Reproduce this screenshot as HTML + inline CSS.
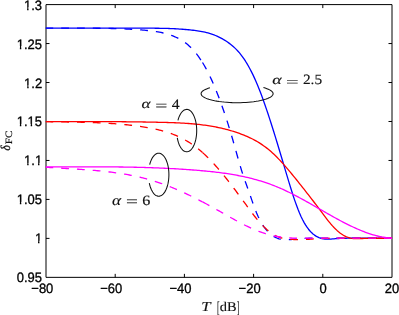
<!DOCTYPE html>
<html><head><meta charset="utf-8"><title>chart</title>
<style>html,body{margin:0;padding:0;background:#fff;}body{width:399px;height:315px;overflow:hidden;}svg{display:block;}text{filter:grayscale(1)}</style>
</head><body>
<svg width="399" height="315" viewBox="0 0 399 315" text-rendering="geometricPrecision">
<rect x="0" y="0" width="399" height="315" fill="#fff"/>
<g stroke="#000" stroke-width="1" fill="none">
<path d="M46.0,4.6 H392.0 V277.35 H46.0 Z"/>
<path d="M115.20,277.35 v-3.5 M115.20,4.6 v3.5 M184.40,277.35 v-3.5 M184.40,4.6 v3.5 M253.60,277.35 v-3.5 M253.60,4.6 v3.5 M322.80,277.35 v-3.5 M322.80,4.6 v3.5 M46.0,238.39 h3.5 M392.0,238.39 h-3.5 M46.0,199.42 h3.5 M392.0,199.42 h-3.5 M46.0,160.46 h3.5 M392.0,160.46 h-3.5 M46.0,121.49 h3.5 M392.0,121.49 h-3.5 M46.0,82.53 h3.5 M392.0,82.53 h-3.5 M46.0,43.56 h3.5 M392.0,43.56 h-3.5 "/>
</g>
<clipPath id="c"><rect x="45.4" y="4.6" width="347.2" height="272.75"/></clipPath>
<g fill="none" stroke-width="1.3" stroke-linejoin="round" clip-path="url(#c)">
<path d="M46.00,28.20 L47.50,28.20 L49.00,28.20 L50.50,28.20 L52.00,28.20 L53.50,28.20 L55.00,28.20 L56.50,28.20 L58.00,28.20 L59.50,28.20 L61.00,28.20 L62.50,28.20 L64.00,28.20 L65.50,28.20 L67.00,28.20 L68.50,28.20 L70.00,28.20 L71.50,28.20 L73.00,28.20 L74.50,28.20 L76.00,28.20 L77.50,28.20 L79.00,28.20 L80.50,28.20 L82.00,28.20 L83.50,28.20 L85.00,28.20 L86.50,28.20 L88.00,28.20 L89.50,28.20 L91.00,28.20 L92.50,28.20 L94.00,28.20 L95.50,28.20 L97.00,28.20 L98.50,28.20 L100.00,28.20 L101.50,28.20 L103.00,28.20 L104.50,28.20 L106.00,28.20 L107.50,28.20 L109.00,28.20 L110.50,28.20 L112.00,28.21 L113.50,28.21 L115.00,28.21 L116.50,28.21 L118.00,28.21 L119.50,28.21 L121.00,28.21 L122.50,28.21 L124.00,28.21 L125.50,28.21 L127.00,28.21 L128.50,28.20 L130.00,28.20 L131.50,28.20 L133.00,28.20 L134.50,28.20 L136.00,28.20 L137.50,28.20 L139.00,28.20 L140.50,28.19 L142.00,28.19 L143.50,28.19 L145.00,28.19 L146.50,28.19 L148.00,28.19 L149.50,28.20 L151.00,28.20 L152.50,28.21 L154.00,28.22 L155.50,28.23 L157.00,28.25 L158.50,28.27 L160.00,28.29 L161.50,28.32 L163.00,28.35 L164.50,28.38 L166.00,28.42 L167.50,28.47 L169.00,28.51 L170.50,28.57 L172.00,28.63 L173.50,28.70 L175.00,28.77 L176.50,28.85 L178.00,28.94 L179.50,29.03 L181.00,29.13 L182.50,29.24 L184.00,29.35 L185.50,29.48 L187.00,29.61 L188.50,29.75 L190.00,29.90 L191.50,30.06 L193.00,30.23 L194.50,30.42 L196.00,30.61 L197.50,30.83 L199.00,31.06 L200.50,31.32 L202.00,31.60 L203.50,31.90 L205.00,32.23 L206.50,32.59 L208.00,32.99 L209.50,33.42 L211.00,33.88 L212.50,34.39 L214.00,34.93 L215.50,35.52 L217.00,36.16 L218.50,36.84 L220.00,37.57 L221.50,38.35 L223.00,39.19 L224.50,40.08 L226.00,41.03 L227.50,42.04 L229.00,43.12 L230.50,44.26 L232.00,45.47 L233.50,46.76 L235.00,48.14 L236.50,49.62 L238.00,51.22 L239.50,52.94 L241.00,54.80 L242.50,56.79 L244.00,58.93 L245.50,61.22 L247.00,63.65 L248.50,66.23 L250.00,68.96 L251.50,71.85 L253.00,74.89 L254.50,78.10 L256.00,81.47 L257.50,85.00 L259.00,88.70 L260.50,92.56 L262.00,96.57 L263.50,100.70 L265.00,104.97 L266.50,109.34 L268.00,113.82 L269.50,118.39 L271.00,123.03 L272.50,127.75 L274.00,132.53 L275.50,137.37 L277.00,142.27 L278.50,147.21 L280.00,152.19 L281.50,157.21 L283.00,162.25 L284.50,167.32 L286.00,172.38 L287.50,177.42 L289.00,182.40 L290.50,187.29 L292.00,192.06 L293.50,196.68 L295.00,201.11 L296.50,205.34 L298.00,209.32 L299.50,213.03 L301.00,216.44 L302.50,219.55 L304.00,222.37 L305.50,224.91 L307.00,227.18 L308.50,229.21 L310.00,231.01 L311.50,232.58 L313.00,233.94 L314.50,235.11 L316.00,236.10 L317.50,236.92 L319.00,237.58 L320.50,238.11 L322.00,238.51 L323.50,238.80 L325.00,238.99 L326.50,239.10 L328.00,239.14 L329.50,239.11 L331.00,239.05 L332.50,238.95 L334.00,238.84 L335.50,238.72 L337.00,238.61 L338.50,238.52 L340.00,238.45 L341.50,238.38 L343.00,238.33 L344.50,238.28 L346.00,238.25 L347.50,238.22 L349.00,238.21 L350.50,238.19 L352.00,238.19 L353.50,238.18 L355.00,238.18 L356.50,238.19 L358.00,238.19 L359.50,238.19 L361.00,238.19 L362.50,238.19 L364.00,238.20 L365.50,238.20 L367.00,238.20 L368.50,238.20 L370.00,238.20 L371.50,238.20 L373.00,238.20 L374.50,238.20 L376.00,238.20 L377.50,238.20 L379.00,238.20 L380.50,238.20 L382.00,238.20 L383.50,238.20 L385.00,238.20 L386.50,238.20 L388.00,238.20 L389.50,238.20 L391.00,238.20 L392.00,238.20" stroke="#0000ff"/>
<path d="M45.40,28.21 L46.90,28.21 L48.40,28.22 L49.90,28.22 L51.40,28.22 L52.90,28.22 L54.40,28.22 L55.90,28.22 L57.40,28.22 L58.90,28.21 L60.40,28.21 L61.90,28.21 L63.40,28.21 L64.90,28.20 L66.40,28.20 L67.90,28.20 L69.40,28.19 L70.90,28.19 L72.40,28.19 L73.90,28.18 L75.40,28.18 L76.90,28.18 L78.40,28.17 L79.90,28.17 L81.40,28.17 L82.90,28.17 L84.40,28.17 L85.90,28.18 L87.40,28.18 L88.90,28.19 L90.40,28.19 L91.90,28.20 L93.40,28.21 L94.90,28.22 L96.40,28.23 L97.90,28.25 L99.40,28.27 L100.90,28.28 L102.40,28.31 L103.90,28.33 L105.40,28.36 L106.90,28.38 L108.40,28.41 L109.90,28.45 L111.40,28.49 L112.90,28.52 L114.40,28.57 L115.90,28.61 L117.40,28.66 L118.90,28.71 L120.40,28.77 L121.90,28.83 L123.40,28.89 L124.90,28.96 L126.40,29.03 L127.90,29.11 L129.40,29.18 L130.90,29.27 L132.40,29.35 L133.90,29.45 L135.40,29.54 L136.90,29.64 L138.40,29.75 L139.90,29.86 L141.40,29.97 L142.90,30.09 L144.40,30.22 L145.90,30.35 L147.40,30.49 L148.90,30.64 L150.40,30.80 L151.90,30.97 L153.40,31.16 L154.90,31.37 L156.40,31.60 L157.90,31.85 L159.40,32.12 L160.90,32.42 L162.40,32.75 L163.90,33.10 L165.40,33.49 L166.90,33.91 L168.40,34.36 L169.90,34.85 L171.40,35.39 L172.90,35.96 L174.40,36.57 L175.90,37.23 L177.40,37.94 L178.90,38.71 L180.40,39.54 L181.90,40.44 L183.40,41.41 L184.90,42.46 L186.40,43.60 L187.90,44.83 L189.40,46.16 L190.90,47.59 L192.40,49.13 L193.90,50.77 L195.40,52.53 L196.90,54.41 L198.40,56.41 L199.90,58.54 L201.40,60.79 L202.50,62.53" stroke="#0000ff" stroke-dasharray="7.8 8.0"/>
<path d="M202.50,62.53 L204.00,65.02 L205.50,67.65 L207.00,70.43 L208.50,73.36 L210.00,76.43 L211.50,79.64 L213.00,83.00 L214.50,86.49 L216.00,90.12 L217.50,93.89 L219.00,97.79 L220.50,101.82 L222.00,105.98 L223.50,110.27 L225.00,114.68 L226.50,119.23 L228.00,123.91 L229.50,128.73 L231.00,133.69 L232.50,138.79 L234.00,144.03 L235.50,149.36 L237.00,154.72 L238.50,160.03 L240.00,165.22 L241.50,170.21 L243.00,174.93 L244.50,179.35 L246.00,183.57 L247.50,187.73 L249.00,191.97 L250.50,196.29 L252.00,200.60 L253.50,204.83 L255.00,208.89 L256.50,212.69 L258.00,216.16 L259.50,219.28 L261.00,222.09 L262.50,224.60 L264.00,226.86 L265.50,228.87 L267.00,230.68 L268.50,232.28 L270.00,233.69 L271.50,234.92 L273.00,235.99 L274.50,236.89 L276.00,237.65 L277.50,238.27 L279.00,238.76 L280.50,239.15 L282.00,239.42 L283.50,239.61 L285.00,239.72 L286.50,239.75 L288.00,239.72 L289.50,239.65 L291.00,239.54 L292.50,239.40 L294.00,239.25 L295.50,239.09 L297.00,238.93 L298.50,238.80 L300.00,238.68 L301.50,238.57 L303.00,238.48 L304.50,238.40 L306.00,238.33 L307.50,238.28 L309.00,238.23 L310.50,238.20 L312.00,238.17 L313.50,238.16 L315.00,238.14 L316.50,238.14 L318.00,238.14 L319.50,238.14 L321.00,238.15 L322.50,238.16 L324.00,238.17 L325.50,238.18 L327.00,238.19 L328.50,238.20 L330.00,238.20 L331.50,238.21 L333.00,238.21 L334.50,238.21 L336.00,238.21 L337.50,238.21 L339.00,238.21 L340.50,238.21 L342.00,238.21 L343.50,238.21 L345.00,238.21 L346.50,238.20 L348.00,238.20 L349.50,238.20 L351.00,238.20 L352.50,238.20 L354.00,238.20 L355.50,238.20 L357.00,238.20 L358.50,238.20 L360.00,238.20 L361.50,238.20 L363.00,238.19 L364.50,238.19 L366.00,238.19 L367.50,238.19 L369.00,238.20 L370.50,238.20 L372.00,238.20 L373.50,238.20 L375.00,238.20 L376.50,238.20 L378.00,238.20 L379.50,238.20 L381.00,238.20 L382.50,238.20 L384.00,238.20 L385.50,238.20 L387.00,238.20 L388.50,238.20 L390.00,238.20 L391.50,238.20 L392.00,238.20" stroke="#0000ff" stroke-dasharray="7.8 8.0"/>
<path d="M46.00,121.55 L47.50,121.55 L49.00,121.55 L50.50,121.55 L52.00,121.55 L53.50,121.54 L55.00,121.54 L56.50,121.54 L58.00,121.54 L59.50,121.54 L61.00,121.54 L62.50,121.54 L64.00,121.54 L65.50,121.54 L67.00,121.54 L68.50,121.54 L70.00,121.54 L71.50,121.54 L73.00,121.54 L74.50,121.54 L76.00,121.54 L77.50,121.54 L79.00,121.54 L80.50,121.55 L82.00,121.55 L83.50,121.55 L85.00,121.55 L86.50,121.55 L88.00,121.56 L89.50,121.56 L91.00,121.56 L92.50,121.57 L94.00,121.57 L95.50,121.57 L97.00,121.58 L98.50,121.58 L100.00,121.59 L101.50,121.60 L103.00,121.60 L104.50,121.61 L106.00,121.62 L107.50,121.62 L109.00,121.63 L110.50,121.64 L112.00,121.65 L113.50,121.66 L115.00,121.67 L116.50,121.68 L118.00,121.69 L119.50,121.71 L121.00,121.72 L122.50,121.73 L124.00,121.75 L125.50,121.76 L127.00,121.78 L128.50,121.79 L130.00,121.81 L131.50,121.83 L133.00,121.85 L134.50,121.87 L136.00,121.89 L137.50,121.91 L139.00,121.93 L140.50,121.95 L142.00,121.97 L143.50,122.00 L145.00,122.02 L146.50,122.05 L148.00,122.07 L149.50,122.10 L151.00,122.13 L152.50,122.16 L154.00,122.19 L155.50,122.22 L157.00,122.25 L158.50,122.29 L160.00,122.32 L161.50,122.36 L163.00,122.39 L164.50,122.43 L166.00,122.47 L167.50,122.51 L169.00,122.56 L170.50,122.60 L172.00,122.65 L173.50,122.71 L175.00,122.76 L176.50,122.83 L178.00,122.89 L179.50,122.96 L181.00,123.04 L182.50,123.12 L184.00,123.21 L185.50,123.30 L187.00,123.40 L188.50,123.51 L190.00,123.62 L191.50,123.74 L193.00,123.87 L194.50,124.01 L196.00,124.15 L197.50,124.31 L199.00,124.47 L200.50,124.64 L202.00,124.82 L203.50,125.02 L205.00,125.22 L206.50,125.43 L208.00,125.65 L209.50,125.89 L211.00,126.14 L212.50,126.40 L214.00,126.67 L215.50,126.95 L217.00,127.25 L218.50,127.56 L220.00,127.88 L221.50,128.22 L223.00,128.57 L224.50,128.94 L226.00,129.32 L227.50,129.72 L229.00,130.13 L230.50,130.56 L232.00,131.00 L233.50,131.46 L235.00,131.94 L236.50,132.44 L238.00,132.95 L239.50,133.48 L241.00,134.03 L242.50,134.60 L244.00,135.19 L245.50,135.80 L247.00,136.44 L248.50,137.11 L250.00,137.80 L251.50,138.53 L253.00,139.28 L254.50,140.08 L256.00,140.91 L257.50,141.77 L259.00,142.68 L260.50,143.63 L262.00,144.62 L263.50,145.66 L265.00,146.74 L266.50,147.88 L268.00,149.07 L269.50,150.31 L271.00,151.60 L272.50,152.95 L274.00,154.35 L275.50,155.80 L277.00,157.29 L278.50,158.83 L280.00,160.41 L281.50,162.03 L283.00,163.68 L284.50,165.37 L286.00,167.09 L287.50,168.83 L289.00,170.61 L290.50,172.40 L292.00,174.22 L293.50,176.05 L295.00,177.91 L296.50,179.77 L298.00,181.64 L299.50,183.53 L301.00,185.42 L302.50,187.31 L304.00,189.21 L305.50,191.11 L307.00,193.03 L308.50,194.95 L310.00,196.88 L311.50,198.82 L313.00,200.77 L314.50,202.73 L316.00,204.70 L317.50,206.68 L319.00,208.68 L320.50,210.69 L322.00,212.70 L323.50,214.72 L325.00,216.71 L326.50,218.67 L328.00,220.58 L329.50,222.43 L331.00,224.20 L332.50,225.88 L334.00,227.48 L335.50,228.98 L337.00,230.39 L338.50,231.70 L340.00,232.90 L341.50,234.00 L343.00,234.98 L344.50,235.86 L346.00,236.61 L347.50,237.24 L349.00,237.75 L350.50,238.12 L352.00,238.38 L353.50,238.53 L355.00,238.60 L356.50,238.61 L358.00,238.59 L359.50,238.56 L361.00,238.53 L362.50,238.50 L364.00,238.47 L365.50,238.44 L367.00,238.41 L368.50,238.39 L370.00,238.37 L371.50,238.35 L373.00,238.33 L374.50,238.31 L376.00,238.30 L377.50,238.28 L379.00,238.27 L380.50,238.26 L382.00,238.24 L383.50,238.23 L385.00,238.23 L386.50,238.22 L388.00,238.21 L389.50,238.21 L391.00,238.20 L392.00,238.20" stroke="#ff0000"/>
<path d="M45.40,121.62 L46.90,121.65 L48.40,121.67 L49.90,121.70 L51.40,121.73 L52.90,121.75 L54.40,121.78 L55.90,121.80 L57.40,121.82 L58.90,121.85 L60.40,121.87 L61.90,121.89 L63.40,121.91 L64.90,121.94 L66.40,121.96 L67.90,121.98 L69.40,122.01 L70.90,122.03 L72.40,122.06 L73.90,122.08 L75.40,122.11 L76.90,122.14 L78.40,122.17 L79.90,122.20 L81.40,122.24 L82.90,122.27 L84.40,122.31 L85.90,122.35 L87.40,122.39 L88.90,122.44 L90.40,122.48 L91.90,122.53 L93.40,122.59 L94.90,122.64 L96.40,122.70 L97.90,122.76 L99.40,122.83 L100.90,122.90 L102.40,122.97 L103.90,123.04 L105.40,123.13 L106.90,123.21 L108.40,123.30 L109.90,123.39 L111.40,123.49 L112.90,123.59 L114.40,123.70 L115.90,123.81 L117.40,123.93 L118.90,124.05 L120.40,124.18 L121.90,124.31 L123.40,124.45 L124.90,124.60 L126.40,124.75 L127.90,124.91 L129.40,125.07 L130.90,125.24 L132.40,125.41 L133.90,125.60 L135.40,125.79 L136.90,125.98 L138.40,126.19 L139.90,126.40 L141.40,126.62 L142.90,126.84 L144.40,127.08 L145.90,127.32 L147.40,127.57 L148.90,127.83 L150.40,128.10 L151.90,128.39 L153.40,128.68 L154.90,129.00 L156.40,129.32 L157.90,129.67 L159.40,130.03 L160.90,130.41 L162.40,130.81 L163.90,131.23 L165.40,131.67 L166.90,132.13 L168.40,132.62 L169.90,133.14 L171.40,133.68 L172.90,134.24 L174.40,134.84 L175.90,135.46 L177.40,136.11 L178.90,136.80 L180.40,137.52 L181.90,138.27 L183.40,139.05 L184.90,139.88 L186.40,140.73 L187.90,141.63 L189.40,142.56 L190.90,143.54 L192.40,144.55 L193.90,145.61 L195.40,146.71 L196.90,147.85 L198.40,149.04 L199.90,150.27 L201.40,151.56 L202.50,152.53" stroke="#ff0000" stroke-dasharray="7.8 8.0"/>
<path d="M202.50,152.53 L204.00,153.89 L205.50,155.29 L207.00,156.74 L208.50,158.22 L210.00,159.75 L211.50,161.32 L213.00,162.92 L214.50,164.56 L216.00,166.23 L217.50,167.94 L219.00,169.67 L220.50,171.44 L222.00,173.24 L223.50,175.06 L225.00,176.91 L226.50,178.78 L228.00,180.68 L229.50,182.60 L231.00,184.55 L232.50,186.51 L234.00,188.49 L235.50,190.48 L237.00,192.49 L238.50,194.51 L240.00,196.54 L241.50,198.58 L243.00,200.62 L244.50,202.68 L246.00,204.73 L247.50,206.79 L249.00,208.83 L250.50,210.86 L252.00,212.86 L253.50,214.83 L255.00,216.74 L256.50,218.60 L258.00,220.40 L259.50,222.12 L261.00,223.78 L262.50,225.36 L264.00,226.86 L265.50,228.29 L267.00,229.64 L268.50,230.90 L270.00,232.07 L271.50,233.15 L273.00,234.14 L274.50,235.03 L276.00,235.82 L277.50,236.51 L279.00,237.10 L280.50,237.59 L282.00,238.00 L283.50,238.33 L285.00,238.61 L286.50,238.85 L288.00,239.04 L289.50,239.21 L291.00,239.34 L292.50,239.45 L294.00,239.53 L295.50,239.58 L297.00,239.61 L298.50,239.62 L300.00,239.61 L301.50,239.58 L303.00,239.54 L304.50,239.48 L306.00,239.41 L307.50,239.34 L309.00,239.25 L310.50,239.16 L312.00,239.07 L313.50,238.97 L315.00,238.88 L316.50,238.78 L318.00,238.69 L319.50,238.61 L321.00,238.54 L322.50,238.47 L324.00,238.41 L325.50,238.36 L327.00,238.32 L328.50,238.28 L330.00,238.25 L331.50,238.23 L333.00,238.21 L334.50,238.19 L336.00,238.18 L337.50,238.18 L339.00,238.17 L340.50,238.17 L342.00,238.17 L343.50,238.18 L345.00,238.18 L346.50,238.19 L348.00,238.19 L349.50,238.20 L351.00,238.21 L352.50,238.21 L354.00,238.21 L355.50,238.22 L357.00,238.22 L358.50,238.22 L360.00,238.22 L361.50,238.22 L363.00,238.22 L364.50,238.21 L366.00,238.21 L367.50,238.21 L369.00,238.21 L370.50,238.20 L372.00,238.20 L373.50,238.20 L375.00,238.20 L376.50,238.19 L378.00,238.19 L379.50,238.19 L381.00,238.19 L382.50,238.19 L384.00,238.19 L385.50,238.19 L387.00,238.19 L388.50,238.19 L390.00,238.19 L391.50,238.20 L392.00,238.20" stroke="#ff0000" stroke-dasharray="7.8 8.0"/>
<path d="M46.00,166.80 L47.50,166.80 L49.00,166.80 L50.50,166.80 L52.00,166.80 L53.50,166.80 L55.00,166.80 L56.50,166.80 L58.00,166.80 L59.50,166.80 L61.00,166.80 L62.50,166.80 L64.00,166.80 L65.50,166.80 L67.00,166.79 L68.50,166.79 L70.00,166.79 L71.50,166.79 L73.00,166.79 L74.50,166.79 L76.00,166.79 L77.50,166.79 L79.00,166.79 L80.50,166.79 L82.00,166.79 L83.50,166.79 L85.00,166.79 L86.50,166.79 L88.00,166.79 L89.50,166.79 L91.00,166.79 L92.50,166.80 L94.00,166.80 L95.50,166.81 L97.00,166.81 L98.50,166.82 L100.00,166.82 L101.50,166.83 L103.00,166.84 L104.50,166.85 L106.00,166.86 L107.50,166.87 L109.00,166.88 L110.50,166.89 L112.00,166.90 L113.50,166.92 L115.00,166.93 L116.50,166.95 L118.00,166.96 L119.50,166.98 L121.00,167.00 L122.50,167.02 L124.00,167.05 L125.50,167.07 L127.00,167.09 L128.50,167.12 L130.00,167.15 L131.50,167.18 L133.00,167.21 L134.50,167.24 L136.00,167.27 L137.50,167.31 L139.00,167.34 L140.50,167.38 L142.00,167.42 L143.50,167.46 L145.00,167.50 L146.50,167.55 L148.00,167.59 L149.50,167.64 L151.00,167.69 L152.50,167.74 L154.00,167.80 L155.50,167.85 L157.00,167.91 L158.50,167.97 L160.00,168.03 L161.50,168.10 L163.00,168.16 L164.50,168.23 L166.00,168.30 L167.50,168.37 L169.00,168.45 L170.50,168.53 L172.00,168.61 L173.50,168.69 L175.00,168.77 L176.50,168.86 L178.00,168.95 L179.50,169.04 L181.00,169.13 L182.50,169.23 L184.00,169.33 L185.50,169.43 L187.00,169.53 L188.50,169.64 L190.00,169.75 L191.50,169.86 L193.00,169.98 L194.50,170.10 L196.00,170.22 L197.50,170.34 L199.00,170.47 L200.50,170.60 L202.00,170.73 L203.50,170.87 L205.00,171.01 L206.50,171.15 L208.00,171.30 L209.50,171.45 L211.00,171.60 L212.50,171.77 L214.00,171.93 L215.50,172.10 L217.00,172.28 L218.50,172.46 L220.00,172.65 L221.50,172.85 L223.00,173.05 L224.50,173.26 L226.00,173.48 L227.50,173.70 L229.00,173.93 L230.50,174.17 L232.00,174.42 L233.50,174.67 L235.00,174.93 L236.50,175.21 L238.00,175.49 L239.50,175.78 L241.00,176.08 L242.50,176.39 L244.00,176.71 L245.50,177.04 L247.00,177.39 L248.50,177.74 L250.00,178.10 L251.50,178.48 L253.00,178.87 L254.50,179.27 L256.00,179.68 L257.50,180.10 L259.00,180.54 L260.50,180.99 L262.00,181.45 L263.50,181.92 L265.00,182.41 L266.50,182.92 L268.00,183.43 L269.50,183.97 L271.00,184.51 L272.50,185.07 L274.00,185.65 L275.50,186.24 L277.00,186.85 L278.50,187.48 L280.00,188.12 L281.50,188.77 L283.00,189.44 L284.50,190.13 L286.00,190.83 L287.50,191.55 L289.00,192.28 L290.50,193.02 L292.00,193.77 L293.50,194.54 L295.00,195.32 L296.50,196.10 L298.00,196.90 L299.50,197.70 L301.00,198.52 L302.50,199.34 L304.00,200.16 L305.50,201.00 L307.00,201.84 L308.50,202.68 L310.00,203.53 L311.50,204.38 L313.00,205.24 L314.50,206.10 L316.00,206.96 L317.50,207.82 L319.00,208.68 L320.50,209.54 L322.00,210.40 L323.50,211.26 L325.00,212.12 L326.50,212.98 L328.00,213.83 L329.50,214.68 L331.00,215.53 L332.50,216.36 L334.00,217.20 L335.50,218.03 L337.00,218.85 L338.50,219.66 L340.00,220.46 L341.50,221.26 L343.00,222.05 L344.50,222.82 L346.00,223.59 L347.50,224.34 L349.00,225.08 L350.50,225.81 L352.00,226.53 L353.50,227.23 L355.00,227.92 L356.50,228.59 L358.00,229.25 L359.50,229.88 L361.00,230.51 L362.50,231.11 L364.00,231.70 L365.50,232.27 L367.00,232.81 L368.50,233.34 L370.00,233.84 L371.50,234.32 L373.00,234.78 L374.50,235.21 L376.00,235.62 L377.50,236.00 L379.00,236.35 L380.50,236.68 L382.00,236.98 L383.50,237.24 L385.00,237.48 L386.50,237.69 L388.00,237.86 L389.50,238.01 L391.00,238.11 L392.00,238.17" stroke="#ff00ff"/>
<path d="M45.40,167.23 L46.90,167.34 L48.40,167.43 L49.90,167.53 L51.40,167.63 L52.90,167.72 L54.40,167.81 L55.90,167.90 L57.40,167.99 L58.90,168.08 L60.40,168.17 L61.90,168.26 L63.40,168.34 L64.90,168.43 L66.40,168.52 L67.90,168.60 L69.40,168.69 L70.90,168.78 L72.40,168.87 L73.90,168.96 L75.40,169.05 L76.90,169.14 L78.40,169.24 L79.90,169.33 L81.40,169.43 L82.90,169.54 L84.40,169.64 L85.90,169.75 L87.40,169.86 L88.90,169.97 L90.40,170.09 L91.90,170.21 L93.40,170.33 L94.90,170.46 L96.40,170.59 L97.90,170.73 L99.40,170.87 L100.90,171.02 L102.40,171.17 L103.90,171.33 L105.40,171.49 L106.90,171.66 L108.40,171.83 L109.90,172.01 L111.40,172.20 L112.90,172.39 L114.40,172.59 L115.90,172.80 L117.40,173.01 L118.90,173.23 L120.40,173.46 L121.90,173.70 L123.40,173.95 L124.90,174.20 L126.40,174.46 L127.90,174.73 L129.40,175.01 L130.90,175.30 L132.40,175.60 L133.90,175.90 L135.40,176.22 L136.90,176.55 L138.40,176.88 L139.90,177.23 L141.40,177.59 L142.90,177.96 L144.40,178.34 L145.90,178.73 L147.40,179.13 L148.90,179.54 L150.40,179.97 L151.90,180.41 L153.40,180.86 L154.90,181.32 L156.40,181.79 L157.90,182.28 L159.40,182.78 L160.90,183.29 L162.40,183.82 L163.90,184.36 L165.40,184.91 L166.90,185.48 L168.40,186.06 L169.90,186.64 L171.40,187.25 L172.90,187.86 L174.40,188.48 L175.90,189.12 L177.40,189.76 L178.90,190.42 L180.40,191.08 L181.90,191.76 L183.40,192.44 L184.90,193.14 L186.40,193.84 L187.90,194.55 L189.40,195.27 L190.90,196.00 L192.40,196.74 L193.90,197.49 L195.40,198.24 L196.90,199.00 L198.40,199.77 L199.90,200.55 L201.40,201.33 L202.50,201.91" stroke="#ff00ff" stroke-dasharray="7.8 8.0"/>
<path d="M202.50,201.91 L204.00,202.70 L205.50,203.50 L207.00,204.30 L208.50,205.11 L210.00,205.93 L211.50,206.75 L213.00,207.57 L214.50,208.40 L216.00,209.24 L217.50,210.07 L219.00,210.92 L220.50,211.76 L222.00,212.61 L223.50,213.46 L225.00,214.31 L226.50,215.16 L228.00,216.01 L229.50,216.85 L231.00,217.70 L232.50,218.54 L234.00,219.37 L235.50,220.20 L237.00,221.02 L238.50,221.83 L240.00,222.63 L241.50,223.42 L243.00,224.19 L244.50,224.96 L246.00,225.71 L247.50,226.44 L249.00,227.16 L250.50,227.86 L252.00,228.55 L253.50,229.21 L255.00,229.85 L256.50,230.48 L258.00,231.07 L259.50,231.65 L261.00,232.20 L262.50,232.73 L264.00,233.22 L265.50,233.69 L267.00,234.14 L268.50,234.55 L270.00,234.94 L271.50,235.31 L273.00,235.65 L274.50,235.96 L276.00,236.25 L277.50,236.52 L279.00,236.76 L280.50,236.99 L282.00,237.19 L283.50,237.37 L285.00,237.53 L286.50,237.67 L288.00,237.79 L289.50,237.89 L291.00,237.98 L292.50,238.05 L294.00,238.10 L295.50,238.15 L297.00,238.18 L298.50,238.20 L300.00,238.22 L301.50,238.23 L303.00,238.23 L304.50,238.23 L306.00,238.22 L307.50,238.22 L309.00,238.21 L310.50,238.21 L312.00,238.21 L313.50,238.20 L315.00,238.20 L316.50,238.20 L318.00,238.20 L319.50,238.20 L321.00,238.20 L322.50,238.20 L324.00,238.20 L325.50,238.20 L327.00,238.20 L328.50,238.20 L330.00,238.20 L331.50,238.20 L333.00,238.20 L334.50,238.20 L336.00,238.20 L337.50,238.20 L339.00,238.20 L340.50,238.20 L342.00,238.20 L343.50,238.20 L345.00,238.20 L346.50,238.20 L348.00,238.20 L349.50,238.20 L351.00,238.20 L352.50,238.20 L354.00,238.20 L355.50,238.20 L357.00,238.20 L358.50,238.20 L360.00,238.20 L361.50,238.20 L363.00,238.20 L364.50,238.20 L366.00,238.20 L367.50,238.20 L369.00,238.20 L370.50,238.20 L372.00,238.20 L373.50,238.20 L375.00,238.20 L376.50,238.20 L378.00,238.20 L379.50,238.20 L381.00,238.20 L382.50,238.20 L384.00,238.20 L385.50,238.20 L387.00,238.20 L388.50,238.20 L390.00,238.20 L391.50,238.20 L392.00,238.20" stroke="#ff00ff" stroke-dasharray="7.8 8.0"/>
</g>
<g stroke="#111" stroke-width="1.05" fill="none">
<path d="M263.43,87.56 L265.23,88.09 L266.87,88.64 L268.34,89.23 L269.62,89.84 L270.71,90.47 L271.60,91.13 L272.29,91.80 L272.77,92.48 L273.04,93.17 L273.09,93.86 L272.94,94.55 L272.57,95.23 L272.00,95.91 L271.22,96.57 L270.24,97.22 L269.06,97.84 L267.70,98.44 L266.15,99.02 L264.43,99.56 L262.56,100.06 L260.53,100.53 L258.36,100.96 L256.07,101.35 L253.67,101.69 L251.17,101.98 L248.58,102.23 L245.93,102.43 L243.23,102.57 L240.49,102.66 L237.73,102.70 L234.96,102.68 L232.21,102.62 L229.49,102.50 L226.82,102.32 L224.20,102.10 L221.66,101.83 L219.21,101.51 L216.86,101.14 L214.64,100.73 L212.55,100.28 L210.60,99.79 L208.81,99.27 L207.18,98.71 L205.74,98.12 L204.47,97.50 L203.40,96.87 L202.53,96.21 L201.86,95.54 L201.40,94.86 L201.15,94.17 L201.11,93.48 L201.28,92.79 L201.67,92.11 L202.26,91.43 L203.06,90.77 L204.06,90.13 L205.26,89.50 L206.64,88.90 L208.20,88.33 L209.93,87.80"/>
<path d="M177.95,120.32 L178.43,118.69 L178.97,117.15 L179.57,115.73 L180.24,114.42 L180.95,113.25 L181.72,112.22 L182.52,111.34 L183.36,110.62 L184.22,110.06 L185.11,109.67 L186.01,109.45 L186.91,109.40 L187.81,109.53 L188.71,109.83 L189.58,110.30 L190.44,110.93 L191.26,111.73 L192.04,112.68 L192.79,113.78 L193.48,115.01 L194.11,116.37 L194.69,117.85 L195.20,119.43 L195.64,121.11 L196.01,122.86 L196.30,124.67 L196.51,126.54 L196.65,128.43 L196.70,130.35 L196.67,132.26 L196.56,134.17 L196.37,136.04 L196.09,137.87 L195.75,139.64 L195.32,141.33 L194.83,142.94 L194.27,144.45 L193.65,145.84 L192.97,147.11 L192.24,148.24 L191.47,149.23 L190.66,150.07 L189.81,150.75 L188.94,151.26 L188.05,151.61 L187.15,151.78 L186.24,151.78 L185.34,151.60 L184.45,151.26 L183.58,150.74 L182.74,150.06 L181.92,149.23 L181.15,148.23 L180.42,147.10 L179.74,145.83 L179.12,144.43 L178.56,142.93 L178.07,141.32 L177.65,139.62 L177.30,137.85"/>
<path d="M149.69,164.61 L150.16,162.94 L150.70,161.37 L151.30,159.91 L151.95,158.57 L152.67,157.36 L153.43,156.29 L154.24,155.37 L155.08,154.60 L155.95,154.00 L156.84,153.56 L157.75,153.29 L158.66,153.20 L159.58,153.28 L160.49,153.53 L161.38,153.96 L162.26,154.55 L163.10,155.30 L163.91,156.21 L164.67,157.27 L165.39,158.47 L166.06,159.81 L166.66,161.26 L167.20,162.82 L167.67,164.47 L168.07,166.21 L168.40,168.02 L168.64,169.88 L168.81,171.78 L168.89,173.71 L168.89,175.64 L168.81,177.56 L168.65,179.46 L168.40,181.33 L168.08,183.14 L167.69,184.88 L167.22,186.54 L166.68,188.10 L166.07,189.55 L165.41,190.89 L164.70,192.09 L163.93,193.16 L163.12,194.07 L162.28,194.83 L161.41,195.43 L160.52,195.86 L159.61,196.11 L158.69,196.20 L157.78,196.11 L156.87,195.85 L155.97,195.42 L155.10,194.82 L154.26,194.06 L153.45,193.14 L152.69,192.07 L151.97,190.86 L151.31,189.53 L150.71,188.07 L150.17,186.50 L149.71,184.84 L149.31,183.10"/>
</g>
<g font-family="'Liberation Sans', sans-serif" font-size="13.0" fill="#000" stroke="#000" stroke-width="0.3">
<text transform="translate(31.30,293.4) scale(1,1.05)">−80</text>
<text transform="translate(100.20,293.4) scale(1,1.05)">−60</text>
<text transform="translate(169.40,293.4) scale(1,1.05)">−40</text>
<text transform="translate(238.60,293.4) scale(1,1.05)">−20</text>
<text transform="translate(319.38,293.4) scale(1,1.05)">0</text>
<text transform="translate(384.70,293.4) scale(1,1.05)">20</text>
<g transform="translate(16.73,282.36) scale(1,1.05)"><text>0.95</text></g>
<g transform="translate(34.90,243.33) scale(1,1.05)"><text>1</text><rect x="-0.01" y="-2.42" width="3.13" height="3.92" fill="#fff" stroke="none"/><rect x="4.57" y="-2.42" width="2.63" height="3.92" fill="#fff" stroke="none"/></g>
<g transform="translate(16.73,204.43) scale(1,1.05)"><text>1.05</text><rect x="-0.01" y="-2.42" width="3.13" height="3.92" fill="#fff" stroke="none"/><rect x="4.57" y="-2.42" width="2.63" height="3.92" fill="#fff" stroke="none"/></g>
<g transform="translate(24.05,165.40) scale(1,1.05)"><text>1.1</text><rect x="-0.01" y="-2.42" width="3.13" height="3.92" fill="#fff" stroke="none"/><rect x="4.57" y="-2.42" width="2.63" height="3.92" fill="#fff" stroke="none"/><rect x="10.83" y="-2.42" width="3.13" height="3.92" fill="#fff" stroke="none"/><rect x="15.41" y="-2.42" width="2.63" height="3.92" fill="#fff" stroke="none"/></g>
<g transform="translate(16.73,126.44) scale(1,1.05)"><text>1.15</text><rect x="-0.01" y="-2.42" width="3.13" height="3.92" fill="#fff" stroke="none"/><rect x="4.57" y="-2.42" width="2.63" height="3.92" fill="#fff" stroke="none"/><rect x="10.83" y="-2.42" width="3.13" height="3.92" fill="#fff" stroke="none"/><rect x="15.41" y="-2.42" width="2.63" height="3.92" fill="#fff" stroke="none"/></g>
<g transform="translate(24.08,87.54) scale(1,1.05)"><text>1.2</text><rect x="-0.01" y="-2.42" width="3.13" height="3.92" fill="#fff" stroke="none"/><rect x="4.57" y="-2.42" width="2.63" height="3.92" fill="#fff" stroke="none"/></g>
<g transform="translate(16.73,48.57) scale(1,1.05)"><text>1.25</text><rect x="-0.01" y="-2.42" width="3.13" height="3.92" fill="#fff" stroke="none"/><rect x="4.57" y="-2.42" width="2.63" height="3.92" fill="#fff" stroke="none"/></g>
<g transform="translate(23.98,9.61) scale(1,1.05)"><text>1.3</text><rect x="-0.01" y="-2.42" width="3.13" height="3.92" fill="#fff" stroke="none"/><rect x="4.57" y="-2.42" width="2.63" height="3.92" fill="#fff" stroke="none"/></g>
</g>
<text transform="translate(272.26,84.37) scale(0.8976,0.6736)" font-family="'Liberation Serif', serif" font-style="italic" font-size="20" fill="#111" stroke="#111" stroke-width="0.2">α</text>
<text transform="translate(285.98,85.66) scale(1.1183,0.6400)" font-family="'Liberation Serif', serif" font-size="20" fill="#111" stroke="#111" stroke-width="0.2">=</text>
<text transform="translate(302.91,84.29) scale(0.7682,0.7085)" font-family="'Liberation Serif', serif" font-size="20" fill="#111" stroke="#111" stroke-width="0.2">2.5</text>
<text transform="translate(141.38,108.47) scale(0.8585,0.6736)" font-family="'Liberation Serif', serif" font-style="italic" font-size="20" fill="#111" stroke="#111" stroke-width="0.2">α</text>
<text transform="translate(155.32,109.52) scale(1.0753,0.6800)" font-family="'Liberation Serif', serif" font-size="20" fill="#111" stroke="#111" stroke-width="0.2">=</text>
<text transform="translate(171.69,108.60) scale(0.7849,0.7148)" font-family="'Liberation Serif', serif" font-size="20" fill="#111" stroke="#111" stroke-width="0.2">4</text>
<text transform="translate(112.08,205.25) scale(0.8585,0.7254)" font-family="'Liberation Serif', serif" font-style="italic" font-size="20" fill="#111" stroke="#111" stroke-width="0.2">α</text>
<text transform="translate(125.95,206.10) scale(1.0538,0.7000)" font-family="'Liberation Serif', serif" font-size="20" fill="#111" stroke="#111" stroke-width="0.2">=</text>
<text transform="translate(142.21,205.26) scale(0.8070,0.7063)" font-family="'Liberation Serif', serif" font-size="20" fill="#111" stroke="#111" stroke-width="0.2">6</text>
<text transform="translate(201.21,311.40) scale(0.8364,0.6870)" font-family="'Liberation Serif', serif" font-style="italic" font-size="20" fill="#111" stroke="#111" stroke-width="0.2">T</text>
<text transform="translate(216.93,312.87) scale(0.3820,0.8253)" font-family="'Liberation Serif', serif" font-size="20" fill="#111" stroke="#111" stroke-width="0.2">[</text>
<text transform="translate(219.70,311.27) scale(0.7206,0.6667)" font-family="'Liberation Serif', serif" font-size="20" fill="#111" stroke="#111" stroke-width="0.2">dB</text>
<text transform="translate(237.04,312.87) scale(0.3778,0.8253)" font-family="'Liberation Serif', serif" font-size="20" fill="#111" stroke="#111" stroke-width="0.2">]</text>
<text transform="rotate(-90) translate(-150.44,10.26) scale(0.5587,0.6761)" font-family="'Liberation Serif', serif" font-style="italic" font-size="20" fill="#111" stroke="#111" stroke-width="0.4">δ</text>
<text transform="rotate(-90) translate(-144.34,12.00) scale(0.5626,0.4833)" font-family="'Liberation Serif', serif" font-size="20" fill="#111" stroke="#111" stroke-width="0.4">FC</text>
</svg>
</body></html>
